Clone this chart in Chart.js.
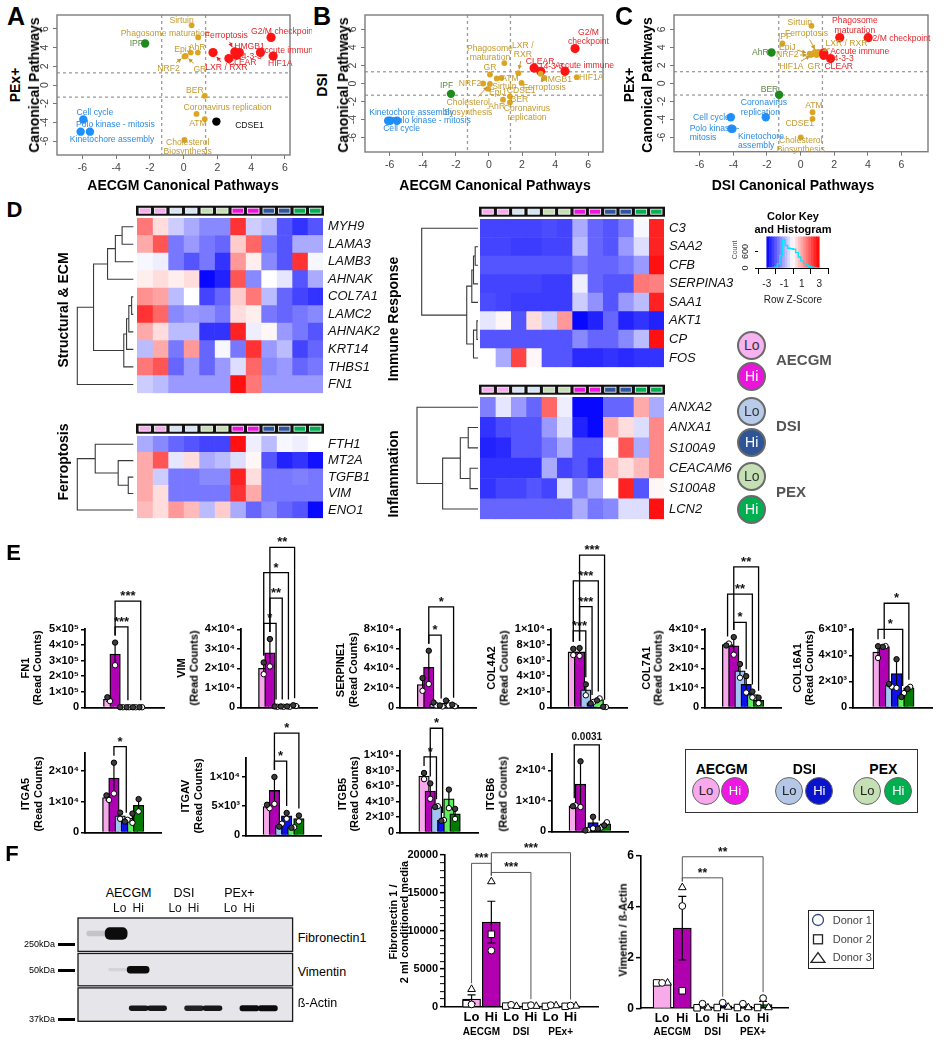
<!DOCTYPE html>
<html><head><meta charset="utf-8"><title>Figure</title>
<script src="https://cdn.jsdelivr.net/npm/chart.js@4.4.1/dist/chart.umd.min.js"></script>
<style>
html,body{margin:0;padding:0;background:#fff;}
#root{position:relative;width:944px;height:1050px;overflow:hidden;font-family:"Liberation Sans",Arial,Helvetica,sans-serif;}
#root canvas{position:absolute;}
.t{position:absolute;white-space:pre;line-height:1.15;text-align:center;}
</style></head><body><div id="root"></div>
<script>
// ================= DATA =================
const THR = 1.3;
// Panel A : PEx+ vs AECGM
const aNames = ['Sirtuin','Phagosome maturation','IPF','EpiJ','AhR','NRF2','GR','LXR / RXR','CLEAR','Ferroptosis','14-3-3','HMGB1','Accute immune','G2/M checkpoint','HIF1A','BER','Coronavirus replication','ATM','CDSE1','Cholesterol\nBiosynthesis','Cell cycle','Polo kinase - mitosis','Kinetochore assembly'];
const aX = [0.47,0.86,-2.28,0.42,0.84,0.05,0.12,1.74,2.68,3.03,3.14,3.3,4.55,5.18,5.3,1.25,0.76,1.25,1.94,0.05,-5.94,-5.55,-6.1];
const aY = [6.39,5.1,4.45,3.47,3.47,3.06,3.12,3.47,2.83,3.54,3.18,3.47,3.47,5.1,3.1,-1.16,-3.1,-3.65,-3.92,-5.89,-3.7,-5.0,-5.0];
const aGrp = ['mid','mid','ipf','mid','mid','mid','mid','up','up','up','up','up','up','up','up','mid','mid','mid','other','mid','down','down','down'];
// Panel B : DSI vs AECGM
const bNames = ['G2/M\ncheckpoint','Phagosome\nmaturation','CLEAR','14-3-3','Accute immune','HIF1A','HMGB1','LXR /\nRXR','Ferroptosis','GR','NRF2','ATM','Sirtuin','EpiJ','CDSE1','AhR','BER','Coronavirus\nreplication','Cholesterol\nBiosynthesis','IPF','Kinetochore assembly','Polo kinase - mitosis','Cell cycle'];
const bX = [5.21,0.93,2.73,3.13,4.6,5.31,3.35,1.78,3.13,0.06,-0.35,0.75,0.47,-0.04,1.97,0.85,1.27,1.27,0.06,-2.3,-6.1,-5.56,-5.97];
const bY = [3.88,2.27,1.71,1.35,1.35,0.7,0.62,1.15,1.08,1.0,0.0,0.62,0.56,-0.59,0.06,-1.8,-2.1,-1.42,-0.05,-1.15,-4.13,-4.13,-4.13];
const bGrp = ['up','mid','up','up','up','mid','mid','mid','mid','mid','mid','mid','mid','mid','mid','mid','mid','mid','mid','ipf','down','down','down'];
// Panel C : PEx+ vs DSI
const cNames = ['Sirtuin','Phagosome\nmaturation','G2/M checkpoint','IPF','AhR','Ferroptosis','EpiJ','NRF2','HIF1A','GR','LXR / RXR','HMGB1','Accute immune','14-3-3','CLEAR','BER','ATM','CDSE1','Cholesterol\nBiosynthesis','Cell cycle','Coronavirus\nreplication','Polo kinase -\nmitosis','Kinetochore\nassembly'];
const cX = [0.65,2.33,4.02,-1.08,-1.73,0.95,0.55,0.6,0.75,0.95,1.08,0.85,1.38,1.38,1.78,-1.28,0.71,0.71,0.01,-4.15,-2.07,-4.05,-4.12];
const cY = [6.4,5.1,5.08,4.43,3.43,3.42,3.3,3.15,3.25,3.15,3.5,3.5,3.38,3.12,2.75,-1.26,-3.2,-3.95,-6.0,-3.77,-3.77,-5.06,-5.04];
const cGrp = ['mid','up','up','mid','ipf','mid','mid','mid','mid','mid','mid','mid','up','up','up','ipf','mid','mid','mid','down','down','down','down'];

// Panel D heatmaps (row z-scores, 12 samples)
const colGroups = ['aLo','aLo','dLo','dLo','pLo','pLo','aHi','aHi','dHi','dHi','pHi','pHi'];
const hm1Genes = ['MYH9','LAMA3','LAMB3','AHNAK','COL7A1','LAMC2','AHNAK2','KRT14','THBS1','FN1'];
const hm1Z = [
 [1.6,0.4,-0.6,-1.0,-1.4,-1.4,2.4,-0.6,-0.8,-2.0,-2.4,-2.0],
 [1.0,2.0,-1.6,-1.2,-1.6,-1.8,0.6,1.8,-1.6,-2.0,-1.0,-1.0],
 [-0.1,-0.2,-1.6,-2.0,-1.6,-2.4,1.2,0.2,-1.4,-2.0,2.4,-0.1],
 [0.2,0.4,0.2,0.4,-2.9,-2.6,2.0,-1.4,0,-0.3,-2.0,-1.0],
 [1.3,1.1,-0.8,0,-2.2,-1.8,0.6,1.6,-0.8,-1.8,-2.2,-2.4],
 [2.4,1.8,-1.4,-1.2,-1.3,-1.6,0.4,0.2,-1.6,-1.8,-1.6,-1.4],
 [1.0,0.4,-0.8,-0.8,-2.4,-2.4,2.6,-0.2,0.1,-1.2,-1.6,-2.0],
 [-0.8,1.0,-1.6,1.2,-1.8,-0.1,-1.6,2.4,-1.2,-0.8,-2.2,-1.8],
 [1.6,2.0,-1.8,-1.2,-1.8,-1.2,-0.4,1.8,-1.4,-1.2,-1.8,-1.6],
 [-0.6,-0.8,-1.2,-1.2,-1.2,-1.2,2.8,1.6,-1.2,-1.2,-1.2,-1.2]];
const hm1Tree = [[-1,-2,0.2],[1,-3,0.32],[2,-4,0.46],[-5,-6,0.03],[4,-7,0.08],[5,-8,0.12],[6,-9,0.17],[3,7,0.71],[8,-10,1.0]];
const hm2Genes = ['FTH1','MT2A','TGFB1','VIM','ENO1'];
const hm2Z = [
 [-1.0,-1.4,-1.8,-2.0,-2.2,-2.2,2.8,-0.2,-0.8,-0.1,-0.2,0],
 [1.0,2.0,-0.3,0.4,-1.0,-0.8,-0.4,0.1,-2.0,-2.6,-2.4,-2.8],
 [1.0,-0.6,-1.6,-1.6,-1.4,-1.4,2.6,0.4,-1.6,-1.6,-1.5,-1.6],
 [1.0,0.4,-1.6,-1.6,-1.6,-1.6,2.4,1.0,-1.6,-1.6,-1.6,-1.6],
 [0.8,0.4,1.2,0.8,-0.8,0.6,-1.0,-1.8,-1.4,-1.8,-2.0,-2.9]];
const hm2Tree = [[-3,-4,0.09],[-2,1,0.27],[-1,2,0.68],[3,-5,1.0]];
const hm3Genes = ['C3','SAA2','CFB','SERPINA3','SAA1','AKT1','CP','FOS'];
const hm3Z = [
 [-2.2,-2.2,-2.2,-2.2,-2.1,-2.2,-1.0,-1.8,-2.0,-1.6,-0.1,2.6],
 [-2.2,-2.2,-2.3,-2.3,-2.2,-2.2,-0.8,-1.8,-2.0,-1.2,-0.4,2.6],
 [-2.0,-2.0,-2.0,-2.0,-2.0,-2.0,-1.6,-1.8,-1.8,-1.6,-1.2,2.8],
 [-2.2,-2.2,-2.2,-2.2,-2.3,-2.3,-0.2,-1.8,-2.0,-2.0,1.6,1.5],
 [-2.1,-2.2,-2.3,-2.3,-2.3,-2.3,-0.6,-1.3,-2.0,-1.2,-0.8,2.6],
 [-0.3,0.1,-2.0,0.4,-0.6,1.2,-2.9,-2.6,-1.8,-2.6,-2.4,-2.6],
 [-2.0,-2.0,-2.0,-2.0,-2.0,-2.0,-1.4,-1.8,-1.8,-1.4,-0.8,2.8],
 [0,-1.0,2.2,0.1,-2.0,-2.0,-2.5,-2.5,-2.4,-2.5,-2.4,-2.4]];
const hm3Tree = [[-2,-3,0.05],[1,-4,0.08],[2,-5,0.11],[-6,-7,0.02],[4,-8,0.08],[3,5,0.2],[-1,6,1.0]];
const hm4Genes = ['ANXA2','ANXA1','S100A9','CEACAM6','S100A8','LCN2'];
const hm4Z = [
 [-1.5,-0.3,-1.2,-1.8,1.8,-0.2,-2.9,-2.9,-1.8,-1.8,1.0,-1.0],
 [-2.4,-2.1,-2.0,-2.0,-1.2,-0.4,-2.6,-2.9,1.0,0.4,-0.4,1.4],
 [-2.6,-2.5,-2.0,-2.0,-1.6,-1.0,-2.0,-2.0,0,2.0,-1.0,1.4],
 [-2.4,-2.4,-2.4,-2.4,-1.0,-2.2,-2.0,-2.4,0.8,0.4,0.8,1.4],
 [-2.4,-2.2,-2.2,-2.0,-2.2,-0.4,-1.5,-1.0,0,2.6,-2.0,0.1],
 [-1.8,-1.8,-1.8,-1.8,-1.8,-1.8,-1.0,-1.6,-1.4,-0.4,-0.4,2.8]];
const hm4Tree = [[-2,-3,0.16],[-4,-5,0.13],[1,2,0.29],[3,-6,0.58],[-1,4,1.0]];
const keyBins = [-2.85,-2.55,-2.25,-1.95,-1.65,-1.35,-1.05,-0.75,-0.45,-0.15,0.15,0.45,0.75,1.05,1.35,1.65,1.95,2.25,2.55,2.85];
const keyCounts = [0,0,0,30,150,450,1020,820,720,700,680,560,400,260,160,100,60,30,15,5];

// Panel E read counts (AECGM Lo, AECGM Hi, DSI Lo, DSI Hi, PEX Lo, PEX Hi)
const eGenes = ['FN1','VIM','SERPINE1','COL4A2','COL7A1','COL16A1','ITGA5','ITGAV','ITGB5','ITGB6'];
const eMean = [
 [52000,342000,1000,1000,1000,1000],
 [20000,28000,400,400,400,900],
 [23500,41000,3500,1500,4500,2000],
 [7100,7100,2250,600,1000,60],
 [32200,31500,18700,11800,6600,3600],
 [4250,4680,1700,2600,950,1500],
 [11300,17600,5400,3800,4600,8800],
 [4950,7700,1750,3350,1350,2900],
 [7300,5350,3350,1550,4350,2400],
 [8400,15500,400,2900,1050,2500]];
const eErr = [
 [13000,73000,0,0,0,0],
 [3000,7000,0,0,0,0],
 [6500,17000,1500,500,2500,800],
 [400,500,700,100,150,30],
 [500,4500,3500,4200,1500,1400],
 [450,30,100,1100,150,80],
 [800,5000,1000,300,1500,2000],
 [300,2300,250,500,50,500],
 [400,1000,50,50,1200,650],
 [150,7500,100,1900,150,500]];
const eRepA = [
 [65000,415000,1000,1000,1000,1000],
 [23000,35000,500,500,500,1100],
 [30000,58000,5000,2000,7000,2800],
 [7500,7600,2950,500,900,80],
 [31700,36000,22200,16000,8100,5000],
 [4700,4650,1800,3700,800,1420],
 [12000,22600,6400,3500,6100,10800],
 [5250,10000,1500,3850,1300,3400],
 [7700,6350,3300,1500,5550,3050],
 [8250,23000,300,4800,900,2000]];
const eRepB = [
 [40000,270000,1000,1000,1000,1000],
 [17000,21000,300,300,300,700],
 [17000,24000,2000,1000,2000,1200],
 [6700,6600,1550,700,1150,40],
 [32700,27000,15200,7600,5100,2200],
 [3800,4710,1600,1500,1100,1580],
 [10500,12600,4400,4100,3100,6800],
 [4650,5400,2000,2850,1400,2400],
 [6900,4350,3400,1600,3150,1750],
 [8550,8000,500,1000,1200,3000]];
const eMax = [500000,40000,80000,10000,40000,6000,25800,13200,10500,25500];
const eStep = [100000,10000,20000,2000,10000,2000,10000,5000,2000,10000];
const eSig = [
 [[1,3,515000,'***'],[1,5,680000,'***']],
 [[0,2,43000,'*'],[1,3,56000,'**'],[0,4,69000,'*'],[1,5,82000,'**']],
 [[1,3,74000,'*'],[1,5,103000,'*']],
 [[0,2,9800,'***'],[1,3,12900,'***'],[0,4,16200,'***'],[1,5,19500,'***']],
 [[1,3,43500,'*'],[0,4,58000,'**'],[1,5,72000,'**']],
 [[0,4,6000,'*'],[1,5,8000,'*']],
 [[1,3,27800,'*']],
 [[1,3,12700,'*'],[1,5,17500,'*']],
 [[0,2,9800,'*'],[1,3,13500,'*']],
 [[0,4,28400,'0.0031']]];

// Panel F
const fCond = ['Lo','Hi','Lo','Hi','Lo','Hi'];
const fnGroups = ['AECGM','DSI','PEx+'];
const vmGroups = ['AECGM','DSI','PEX+'];
const fnMean = [1000,11150,130,110,130,100];
const fnErr = [560,2750,60,50,50,40];
const fnD1 = [300,7400,250,200,200,150];
const fnD2 = [400,9550,80,60,40,50];
const fnD3 = [2300,16500,60,70,150,100];
const fnSig = [[0,1,18900,'***'],[1,3,17700,'***'],[1,5,20300,'***']];
const vmMean = [1.0,3.16,0.07,0.1,0.08,0.15];
const vmErr = [0,1.25,0.05,0.06,0.05,0.12];
const vmD1 = [1.0,4.03,0.18,0.22,0.18,0.4];
const vmD2 = [1.0,0.69,0.02,0.03,0.03,0.03];
const vmD3 = [1.0,4.76,0.02,0.05,0.03,0.03];
const vmSig = [[1,3,5.14,'**'],[1,5,5.97,'**']];
const blotCond = ['Lo','Hi','Lo','Hi','Lo','Hi'];
const blotFN1 = [0.15,1,0,0,0,0];
const blotVIM = [0.08,1,0,0,0,0];
const blotACT = [0.95,0.95,0.9,0.95,1,1];

// ================= STYLE / LAYOUT =================
const FONT = '"Liberation Sans", Arial, Helvetica, sans-serif';
const NARROW = '"Liberation Sans Narrow", "Arial Narrow", "Liberation Sans", Arial, sans-serif';
Chart.defaults.font.family = FONT;
const root = document.getElementById('root');
const GC = {up:'#FF1414', mid:'#DBA423', ipf:'#1E8A1E', down:'#1E8FFF', other:'#000000'};
const GT = {up:'#E3262B', mid:'#C49A2E', ipf:'#5D8743', down:'#2B8AE4', other:'#111111'};
const GR = {up:4.6, mid:2.9, ipf:4.2, down:4.2, other:4.2};
const stripColor = {aLo:'#F8ABEF', aHi:'#EE13DE', dLo:'#D6E4F7', dHi:'#2F55A0', pLo:'#C6DFB2', pHi:'#00B050'};
const eColors = ['#F6A8EA','#B000B4','#9FC5F0','#0F10F0','#5CF05C','#007D00'];

function txt(s, x, y, o = {}) {
  const d = document.createElement('div');
  d.className = 't'; d.textContent = s;
  const st = d.style;
  st.left = x + 'px'; st.top = y + 'px';
  st.fontSize = (o.size || 12) + 'px';
  st.fontWeight = o.bold ? 'bold' : 'normal';
  if (o.italic) st.fontStyle = 'italic';
  st.color = o.color || '#000';
  const ax = o.anchor === 'l' ? '0' : (o.anchor === 'r' ? '-100%' : '-50%');
  st.transform = 'translate(' + ax + ',-50%)' + (o.rot ? ' rotate(-90deg)' : '');
  root.appendChild(d);
  return d;
}
// Canvas whose plot area lands exactly on `box`; axes take the margin on their side.
function mk(box, m, cfg) {
  const bw = box.r - box.l, bh = box.b - box.t;
  const W = Math.ceil(bw + m.l + m.r), H = Math.ceil(bh + m.t + m.b);
  const cv = document.createElement('canvas');
  cv.width = W; cv.height = H;
  cv.style.left = (box.l - m.l) + 'px'; cv.style.top = (box.t - m.t) + 'px';
  cv.style.width = W + 'px'; cv.style.height = H + 'px';
  root.appendChild(cv);
  const o = cfg.options = cfg.options || {};
  o.responsive = false; o.maintainAspectRatio = false; o.animation = false;
  const pad = {left: m.l, top: m.t, right: W - m.l - bw, bottom: H - m.t - bh};
  Object.entries(o.scales || {}).forEach(([k, s]) => {
    s.ticks = Object.assign({autoSkip: false}, s.ticks || {});
    if (s.display === false) return;
    const pos = s.position || (k[0] === 'x' ? 'bottom' : 'left');
    const size = pad[pos]; pad[pos] = 0;
    s.afterFit = sc => { if (sc.isHorizontal()) sc.height = size; else sc.width = size; };
  });
  o.layout = {padding: pad};
  o.plugins = Object.assign({legend: {display: false}, tooltip: {enabled: false}}, o.plugins || {});
  const ch = new Chart(cv, cfg);
  ch.$ox = box.l - m.l; ch.$oy = box.t - m.t;
  return ch;
}
function zColor(z) {
  z = Math.max(-3, Math.min(3, z));
  if (z < 0) { const v = Math.round(255 * (1 + z / 3)); return 'rgb(' + v + ',' + v + ',255)'; }
  const v = Math.round(255 * (1 - z / 3)); return 'rgb(255,' + v + ',' + v + ')';
}
const SUP = {'0':'⁰','1':'¹','2':'²','3':'³','4':'⁴','5':'⁵','6':'⁶','7':'⁷','8':'⁸','9':'⁹'};
function sci(v) {
  if (v === 0) return '0';
  const e = Math.floor(Math.log10(v) + 1e-9);
  const mnt = Math.round(v / Math.pow(10, e));
  return mnt + '×10' + String(e).split('').map(c => SUP[c]).join('');
}

// ---------- scatter panels ----------
function scatterPanel(box, xr, yr, names, xs, ys, grp, lab) {
  const plug = {id: 'scl',
    beforeDatasetsDraw(ch) {
      const {ctx, chartArea: a, scales: {x, y}} = ch;
      ctx.save(); ctx.strokeStyle = '#9c9c9c'; ctx.lineWidth = 1.3; ctx.setLineDash([3, 3]);
      [-THR, THR].forEach(t => {
        const px = x.getPixelForValue(t); ctx.beginPath(); ctx.moveTo(px, a.top); ctx.lineTo(px, a.bottom); ctx.stroke();
        const py = y.getPixelForValue(t); ctx.beginPath(); ctx.moveTo(a.left, py); ctx.lineTo(a.right, py); ctx.stroke();
      });
      ctx.restore();
    },
    afterDraw(ch) {
      const {ctx, chartArea: a, scales: {x, y}} = ch;
      ctx.save(); ctx.strokeStyle = '#7c7c7c'; ctx.lineWidth = 1.4;
      ctx.strokeRect(a.left, a.top, a.right - a.left, a.bottom - a.top);
      ctx.font = '8.6px ' + NARROW; ctx.textBaseline = 'middle';
      names.forEach((n, i) => {
        const L = lab[i]; if (!L) return;
        const col = GT[grp[i]];
        const lx = x.getPixelForValue(L[0]), ly = y.getPixelForValue(L[1]);
        ctx.fillStyle = col; ctx.textAlign = L[3] === 'l' ? 'left' : 'center';
        const lines = n.split('\n');
        lines.forEach((s, j) => ctx.fillText(s, lx, ly + (j - (lines.length - 1) / 2) * 9.6));
        if (L[2]) {
          const px = x.getPixelForValue(xs[i]), py = y.getPixelForValue(ys[i]);
          let dx = px - lx, dy = py - ly; const len = Math.hypot(dx, dy); if (len < 4) return;
          dx /= len; dy /= len;
          const hw = Math.max(...lines.map(s => ctx.measureText(s).width)) / 2, hh = lines.length * 4.8;
          const tt = Math.min(Math.abs(dx) > 1e-6 ? hw / Math.abs(dx) : 1e9, Math.abs(dy) > 1e-6 ? hh / Math.abs(dy) : 1e9) + 1.5;
          const er = GR[grp[i]] + 1;
          if (tt > len - er - 2) return;
          const sx = lx + dx * tt, sy = ly + dy * tt, ex = px - dx * er, ey = py - dy * er;
          ctx.strokeStyle = col; ctx.lineWidth = 1;
          ctx.beginPath(); ctx.moveTo(sx, sy); ctx.lineTo(ex, ey); ctx.stroke();
          ctx.beginPath(); ctx.moveTo(ex, ey);
          ctx.lineTo(ex - dx * 4 - dy * 2.2, ey - dy * 4 + dx * 2.2);
          ctx.lineTo(ex - dx * 4 + dy * 2.2, ey - dy * 4 - dx * 2.2);
          ctx.closePath(); ctx.fill();
        }
      });
      ctx.restore();
    }};
  const tk = [-6, -4, -2, 0, 2, 4, 6];
  return mk(box, {l: 30, r: 22, t: 10, b: 22}, {
    type: 'scatter',
    data: {datasets: [{data: xs.map((v, i) => ({x: v, y: ys[i]})),
      pointBackgroundColor: grp.map(g => GC[g]), pointBorderColor: grp.map(g => GC[g]),
      pointRadius: grp.map(g => GR[g]), pointBorderWidth: 0, clip: false}]},
    options: {scales: {
      x: {type: 'linear', min: xr[0], max: xr[1], afterBuildTicks: s => { s.ticks = tk.map(v => ({value: v})); },
          ticks: {font: {size: 10.5}, color: '#444', padding: 3}, grid: {display: true, drawOnChartArea: false, tickLength: 4, color: '#777'}, border: {display: false}},
      y: {type: 'linear', min: yr[0], max: yr[1], afterBuildTicks: s => { s.ticks = tk.map(v => ({value: v})); },
          ticks: {font: {size: 10.5}, color: '#444', padding: 3, minRotation: 90, maxRotation: 90, crossAlign: 'center'},
          grid: {display: true, drawOnChartArea: false, tickLength: 4, color: '#777'}, border: {display: false}}}},
    plugins: [plug]
  });
}
const aLab = [[-0.12,6.92,0],[-1.1,5.46,0],[-2.8,4.39,0],[-0.06,3.78,0],[0.8,4.0,0],[-0.9,1.8,1],[0.96,1.7,1],[2.53,1.81,1],[3.47,2.41,0],[2.53,5.28,1],[3.9,3.0,0],[3.9,4.13,0],[6.2,3.7,0],[5.9,5.74,0],[5.72,2.34,0],[0.66,-0.63,0],[2.6,-2.42,0],[0.85,-4.17,0],[3.9,-4.38,0],[0.24,-6.66,0],[-5.26,-3.0,0],[-4.04,-4.28,0],[-4.24,-5.89,0]];
const bLab = [[6.02,5.14,0],[0.06,3.37,0],[3.1,2.38,0],[3.76,1.82,0],[5.78,1.93,0],[6.19,0.7,0],[4.1,0.48,0],[2.05,3.72,1],[3.35,-0.42,1],[0.06,1.71,0],[-1.15,-0.05,0],[1.27,0.55,0],[0.93,-0.3,1],[0.51,-1.05,0],[1.95,-0.84,1],[0.47,-2.57,0],[1.84,-1.8,0],[2.3,-3.3,0],[-1.25,-2.65,1],[-2.56,-0.28,0],[-4.69,-3.28,0],[-3.48,-4.13,0],[-5.29,-5.06,0]];
const cLab = [[-0.05,6.8,0],[3.23,6.43,0],[5.8,5.02,0],[-0.95,5.2,0],[-2.39,3.43,0],[0.35,5.55,1],[-0.79,4.0,1],[-0.79,3.15,1],[-0.55,1.85,1],[0.8,1.85,1],[2.73,4.47,1],null,[3.52,3.54,0],[2.42,2.75,0],[2.27,1.9,0],[-1.85,-0.7,0],[0.8,-2.46,0],[-0.05,-4.5,0],[0.01,-6.85,0],[-5.3,-3.77,0],[-3.56,-2.7,0,'l'],[-6.6,-5.53,0,'l'],[-3.72,-6.43,0,'l']];

scatterPanel({l: 57, r: 290, t: 15, b: 155}, [-7.5, 6.3], [-7.5, 7.5], aNames, aX, aY, aGrp, aLab);
scatterPanel({l: 365, r: 603, t: 15, b: 152}, [-7.5, 6.9], [-7.6, 7.6], bNames, bX, bY, bGrp, bLab);
scatterPanel({l: 674.3, r: 928.3, t: 15, b: 151.7}, [-7.53, 7.58], [-7.6, 7.6], cNames, cX, cY, cGrp, cLab);

// ---------- heatmaps ----------
const stripPlugin = {id: 'strip', afterDraw(ch) {
  const {ctx, chartArea: a, scales: {x}} = ch;
  const top = a.top - 12.3, bot = a.top - 2.3;
  ctx.save(); ctx.fillStyle = '#111';
  ctx.fillRect(a.left - 1, top, a.right - a.left + 2, bot - top);
  colGroups.forEach((g, c) => {
    const x1 = x.getPixelForValue(c) + 2, x2 = x.getPixelForValue(c + 1) - 2;
    ctx.fillStyle = stripColor[g]; ctx.fillRect(x1, top + 2.5, x2 - x1, bot - top - 5);
    ctx.strokeStyle = '#fff'; ctx.lineWidth = 0.8; ctx.strokeRect(x1, top + 2.5, x2 - x1, bot - top - 5);
  });
  ctx.restore();
}};
function dendPlugin(tree, gap, width) {
  return {id: 'dend', afterDraw(ch) {
    const {ctx, chartArea: a, scales: {y}} = ch;
    const x0 = a.left - gap, pos = [];
    const get = r => r < 0 ? {x: x0, y: y.getPixelForValue(-r - 1)} : pos[r - 1];
    ctx.save(); ctx.strokeStyle = '#3a3a3a'; ctx.lineWidth = 1.1; ctx.beginPath();
    tree.forEach(([p, q, h]) => {
      const A = get(p), B = get(q), nx = x0 - h * width;
      ctx.moveTo(A.x, A.y); ctx.lineTo(nx, A.y); ctx.lineTo(nx, B.y); ctx.lineTo(B.x, B.y);
      pos.push({x: nx, y: (A.y + B.y) / 2});
    });
    ctx.stroke(); ctx.restore();
  }};
}
function heatmap(box, genes, Z, tree, gap, width) {
  const datasets = colGroups.map((g, c) => ({
    data: genes.map(() => 1), backgroundColor: Z.map(row => zColor(row[c])),
    borderWidth: 0, barPercentage: 1, categoryPercentage: 1}));
  return mk(box, {l: 68, r: 88, t: 16, b: 2}, {
    type: 'bar', data: {labels: genes, datasets},
    options: {indexAxis: 'y', scales: {
      x: {display: false, stacked: true, min: 0, max: 12},
      y: {type: 'category', stacked: true, position: 'right', grid: {display: false, drawTicks: false}, border: {display: false},
          ticks: {font: {size: 13, style: 'italic'}, color: '#111', padding: 5}}}},
    plugins: [stripPlugin, dendPlugin(tree, gap, width)]
  });
}
heatmap({l: 136.7, r: 322.7, t: 218.3, b: 404.3}, hm1Genes, hm1Z, hm1Tree, 3.7, 56);
heatmap({l: 136.7, r: 322.7, t: 435.7, b: 527.7}, hm2Genes, hm2Z, hm2Tree, 3.7, 56);
heatmap({l: 480, r: 664, t: 219, b: 377.7}, hm3Genes, hm3Z, hm3Tree, 2, 56.3);
heatmap({l: 480, r: 664, t: 396.7, b: 529}, hm4Genes, hm4Z, hm4Tree, 2, 61);

// color key
mk({l: 758, r: 828, t: 233, b: 268}, {l: 25, r: 6, t: 4, b: 22}, {
  type: 'bar',
  data: {datasets: [
    {type: 'line', order: 0, data: keyBins.map((b, i) => ({x: b, y: keyCounts[i]})), borderColor: '#00E8FF', borderWidth: 1.4, pointRadius: 0, stepped: 'middle'},
    {type: 'bar', order: 1, data: keyBins.map(b => ({x: b, y: 1150})), backgroundColor: keyBins.map(zColor), barPercentage: 1, categoryPercentage: 1, borderWidth: 0}]},
  options: {scales: {
    x: {type: 'linear', min: -3, max: 3, afterBuildTicks: s => { s.ticks = [-3, -1, 1, 3].map(v => ({value: v})); },
        ticks: {font: {size: 10}, color: '#222', padding: 4}, grid: {display: true, drawOnChartArea: false, tickLength: 6, color: '#000'}, border: {display: true, color: '#000'}},
    y: {type: 'linear', min: 0, max: 1150, afterBuildTicks: s => { s.ticks = [0, 600].map(v => ({value: v})); },
        ticks: {font: {size: 9}, color: '#222', padding: 2, minRotation: 90, maxRotation: 90, crossAlign: 'center'},
        grid: {display: true, drawOnChartArea: false, tickLength: 3, color: '#000'}, border: {display: false}}}}
});

// ---------- panel E ----------
function errPlugin(means, errs, color, lw, cap) {
  return {id: 'err', afterDatasetDraw(ch, args) {
    if (args.meta.type !== 'bar') return;
    const {ctx, scales: {x, y}} = ch;
    ctx.save(); ctx.strokeStyle = color; ctx.lineWidth = lw; ctx.beginPath();
    means.forEach((m, k) => {
      const e = errs[k]; if (!e) return;
      const px = x.getPixelForValue(k), y1 = y.getPixelForValue(m + e), y0 = y.getPixelForValue(Math.max(0, m - e));
      ctx.moveTo(px, y0); ctx.lineTo(px, y1);
      ctx.moveTo(px - cap, y1); ctx.lineTo(px + cap, y1);
      ctx.moveTo(px - cap, y0); ctx.lineTo(px + cap, y0);
    });
    ctx.stroke(); ctx.restore();
  }};
}
function sigPlugin(sig, tops, color, lw, starFont, gap) {
  return {id: 'sig', afterDraw(ch) {
    const {ctx, scales: {x, y}} = ch;
    ctx.save(); ctx.strokeStyle = color; ctx.fillStyle = '#111'; ctx.lineWidth = lw; ctx.textAlign = 'center'; ctx.textBaseline = 'alphabetic';
    sig.forEach(([a, b, v, lab]) => {
      const xa = x.getPixelForValue(a), xb = x.getPixelForValue(b), yv = y.getPixelForValue(v);
      const ya = y.getPixelForValue(tops[a]) - gap, yb = y.getPixelForValue(tops[b]) - gap;
      ctx.beginPath(); ctx.moveTo(xa, ya); ctx.lineTo(xa, yv); ctx.lineTo(xb, yv); ctx.lineTo(xb, yb); ctx.stroke();
      const num = /[0-9]/.test(lab);
      ctx.font = num ? 'bold 10px ' + FONT : starFont;
      ctx.fillText(lab, (xa + xb) / 2, yv - (num ? 5 : 1));
    });
    ctx.restore();
  }};
}
const eLay = [
 [85, 708.3, 629.3, 93, 13],
 [240.7, 708.3, 629.3, 248.3, 12.6],
 [400, 708.3, 629.3, 407.3, 12.7],
 [551, 708.3, 629.3, 557.7, 12.7],
 [705, 708.3, 629.3, 712.3, 12.7],
 [853.3, 708.3, 629.3, 864, 12.5],
 [85, 833.3, 752.8, 92.7, 12.6],
 [246, 836.7, 758.3, 253.3, 12.5],
 [400, 833.3, 751.4, 409.3, 12.7],
 [551.7, 832.7, 753.7, 558.3, 12.7]];
const eTitlePos = [[25,37.3,668],[181,194.3,668],[340,353.3,670],[490.7,504.3,668],[646,658.3,668],[796.7,809,668],
                   [25,37.7,794],[185,198.3,796],[341.7,354.3,794],[490,503.3,794]];
function eChart(i) {
  const [L, B, T, c0, s] = eLay[i];
  const xmin = (L - c0) / s, xmax = 5.55;
  const box = {l: L, r: c0 + xmax * s, t: T, b: B};
  const ppv = (B - T) / eMax[i];
  const mean = eMean[i], err = eErr[i], ra = eRepA[i], rb = eRepB[i];
  const ptsA = [], ptsB = [];
  mean.forEach((m, k) => {
    const close = Math.abs(ra[k] - rb[k]) * ppv < 5; const dx = close ? 2.7 / s : 0;
    ptsA.push({x: k - dx, y: ra[k]}); ptsB.push({x: k + dx, y: rb[k]});
  });
  const tops = mean.map((m, k) => Math.max(m + err[k], ra[k], rb[k]));
  const tks = []; for (let v = 0; v <= eMax[i] + 1e-6; v += eStep[i]) tks.push(v);
  mk(box, {l: 50, r: 3, t: T - (i < 6 ? 530 : 712), b: 7}, {
    type: 'bar',
    data: {datasets: [
      {type: 'bar', order: 3, data: mean.map((m, k) => ({x: k, y: m})), backgroundColor: eColors, borderColor: '#000', borderWidth: 1.3, barThickness: 10.5},
      {type: 'scatter', order: 1, data: ptsA, pointRadius: 2.7, pointBackgroundColor: '#3c3c3c', pointBorderColor: '#000', pointBorderWidth: 1, clip: false},
      {type: 'scatter', order: 2, data: ptsB, pointRadius: 2.7, pointBackgroundColor: '#ffffff', pointBorderColor: '#000', pointBorderWidth: 1, clip: false}]},
    options: {scales: {
      x: {type: 'linear', min: xmin, max: xmax, ticks: {display: false}, grid: {display: false}, border: {display: true, color: '#000', width: 1.8}},
      y: {type: 'linear', min: 0, max: eMax[i], afterBuildTicks: sc => { sc.ticks = tks.map(v => ({value: v})); },
          ticks: {callback: v => sci(v), font: {size: 11, weight: 'bold'}, color: '#000', padding: 2},
          grid: {display: true, drawOnChartArea: false, tickLength: 4, color: '#000', lineWidth: 1.5},
          border: {display: true, color: '#000', width: 1.8}}}},
    plugins: [errPlugin(mean, err, '#000', 1.2, 2.5), sigPlugin(eSig[i], tops, '#000', 1.3, 'bold 13px ' + FONT, 7)]
  });
  const tp = eTitlePos[i];
  txt(eGenes[i], tp[0], tp[2], {size: 11, bold: true, rot: true});
  txt('(Read Counts)', tp[1], tp[2], {size: 11, bold: true, rot: true});
}
for (let i = 0; i < eGenes.length; i++) eChart(i);

// ---------- panel F bar charts ----------
function fChart(box, c0, s, ymax, tickVals, labelEvery, mean, err, d1, d2, d3, sig, groups, tickFont, condFont) {
  const xmin = (box.l - c0) / s, xmax = (box.r - c0) / s;
  const ppv = (box.b - box.t) / ymax;
  const D = [d1, d2, d3], off = [0, -0.27, 0.27];
  const P = D.map((arr, j) => arr.map((v, k) => {
    const close = D.some((o, jj) => jj !== j && Math.abs(o[k] - v) * ppv < 8);
    return {x: k + (close ? off[j] : 0), y: v};
  }));
  const tops = mean.map((m, k) => Math.max(m + err[k], d1[k], d2[k], d3[k]));
  const styles = ['circle', 'rect', 'triangle'], radii = [3.4, 4.6, 4.4];
  const ch = mk(box, {l: 50, r: 4, t: 24, b: 22}, {
    type: 'bar',
    data: {datasets: [
      {type: 'bar', order: 5, data: mean.map((m, k) => ({x: k, y: m})), backgroundColor: ['#F7ABEA','#B000B0','#9DC3E6','#0000FF','#66FF66','#008000'], borderColor: '#000', borderWidth: 1.2, barThickness: 18}
    ].concat(P.map((pts, j) => ({type: 'scatter', order: j + 1, data: pts, pointStyle: styles[j], pointRadius: radii[j], pointBackgroundColor: '#fff', pointBorderColor: '#000', pointBorderWidth: 1, clip: false})))},
    options: {scales: {
      x: {type: 'linear', min: xmin, max: xmax, afterBuildTicks: sc => { sc.ticks = fCond.map((c, k) => ({value: k})); },
          ticks: {callback: (v, i) => fCond[i], font: {size: condFont, weight: 'bold'}, color: '#000', padding: 3},
          grid: {display: false, drawTicks: false}, border: {display: true, color: '#000', width: 1.6}},
      y: {type: 'linear', min: 0, max: ymax, afterBuildTicks: sc => { sc.ticks = tickVals.map(v => ({value: v})); },
          ticks: {callback: v => (v % labelEvery === 0 ? String(v) : ''), font: {size: tickFont, weight: 'bold'}, color: '#000', padding: 2},
          grid: {display: true, drawOnChartArea: false, tickLength: 5, color: '#000', lineWidth: 1.3,
                 tickWidth: c => (c.tick && c.tick.value % labelEvery === 0 ? 1.5 : 1)},
          border: {display: true, color: '#000', width: 1.6}}}},
    plugins: [errPlugin(mean, err, '#000', 1.2, 4), sigPlugin(sig, tops, '#555', 1, 'bold 12px ' + FONT, 6)]
  });
  groups.forEach((g, k) => txt(g, ch.$ox + ch.scales.x.getPixelForValue(2 * k + 0.5), 1031.7, {size: 10, bold: true}));
  return ch;
}
const fnTicks = []; for (let v = 0; v <= 20000; v += 1000) fnTicks.push(v);
fChart({l: 445, r: 600, t: 855, b: 1006.7}, 461.7, 24, 20000, fnTicks, 5000, fnMean, fnErr, fnD1, fnD2, fnD3, fnSig, fnGroups, 11, 13);
fChart({l: 641, r: 790, t: 856, b: 1008.3}, 651.7, 24.5, 6, [0, 2, 4, 6], 2, vmMean, vmErr, vmD1, vmD2, vmD3, vmSig, vmGroups, 12, 12);

// ---------- western blot ----------
const blotSlots = [1, 2, 4, 5, 7, 8];
const bandC = [2.55, 1.5, 0.38], bandH = [0.17, 0.1, 0.075], bandW = [22, 22, 19];
const blot = mk({l: 77.7, r: 292.3, t: 917.7, b: 1021}, {l: 4, r: 4, t: 16, b: 3}, {
  type: 'bar',
  data: {datasets: [blotFN1, blotVIM, blotACT].map((I, p) => ({
    data: blotSlots.map((sl, k) => I[k] > 0 ? {x: sl, y: [bandC[p] - bandH[p] * (0.3 + 0.7 * I[k]), bandC[p] + bandH[p] * (0.3 + 0.7 * I[k])]} : {x: sl, y: null}),
    backgroundColor: I.map(v => 'rgba(12,12,12,' + Math.min(1, v) + ')'),
    barThickness: bandW[p], borderRadius: 5, borderSkipped: false, borderWidth: 0}))},
  options: {scales: {
    x: {type: 'linear', min: -0.29, max: 9.4, position: 'top', afterBuildTicks: sc => { sc.ticks = blotSlots.map(v => ({value: v})); },
        ticks: {callback: (v, i) => blotCond[i], font: {size: 12}, color: '#111', padding: 2}, grid: {display: false, drawTicks: false}, border: {display: false}},
    y: {type: 'linear', min: 0, max: 3, display: false}}},
  plugins: [{id: 'strips', beforeDatasetsDraw(ch) {
    const {ctx, chartArea: a, scales: {y}} = ch;
    ctx.save(); ctx.fillStyle = '#E5E5EA'; ctx.strokeStyle = '#1a1a1a'; ctx.lineWidth = 1.3;
    for (let k = 0; k < 3; k++) {
      const t = y.getPixelForValue(k + (k === 2 ? 1 : 0.97)), b = y.getPixelForValue(k + (k === 0 ? 0 : 0.03));
      ctx.fillRect(a.left, t, a.right - a.left, b - t); ctx.strokeRect(a.left, t, a.right - a.left, b - t);
    }
    ctx.restore();
  }}]
});
['AECGM', 'DSI', 'PEx+'].forEach((g, k) => txt(g, blot.$ox + blot.scales.x.getPixelForValue(blotSlots[2 * k] + 0.5), 893.3, {size: 12.5}));
txt('Fibronectin1', 297.7, 937.7, {size: 12.5, anchor: 'l'});
txt('Vimentin', 297.7, 971.7, {size: 12.5, anchor: 'l'});
txt('ß-Actin', 297.7, 1003.3, {size: 12.5, anchor: 'l'});
[['250kDa', 944], ['50kDa', 970], ['37kDa', 1019.3]].forEach(([s, y]) => {
  txt(s, 55, y, {size: 9, anchor: 'r'});
  const d = document.createElement('div');
  Object.assign(d.style, {position: 'absolute', left: '58px', top: (y - 1.5) + 'px', width: '17px', height: '3px', background: '#000'});
  root.appendChild(d);
});

// ================= TEXT / LEGENDS =================
txt('A', 16, 16, {size: 25, bold: true});
txt('B', 322, 16, {size: 25, bold: true});
txt('C', 624, 16, {size: 25, bold: true});
txt('D', 14.5, 210, {size: 22, bold: true});
txt('E', 13.5, 553, {size: 22, bold: true});
txt('F', 12, 854, {size: 22, bold: true});

txt('PEx+', 15, 85, {size: 14, bold: true, rot: true});
txt('Canonical Pathways', 34, 85, {size: 14, bold: true, rot: true});
txt('AECGM Canonical Pathways', 183, 185, {size: 14, bold: true});
txt('DSI', 322, 85, {size: 14, bold: true, rot: true});
txt('Canonical Pathways', 343, 85, {size: 14, bold: true, rot: true});
txt('AECGM Canonical Pathways', 495, 185, {size: 14, bold: true});
txt('PEx+', 629, 85, {size: 14, bold: true, rot: true});
txt('Canonical Pathways', 647, 85, {size: 14, bold: true, rot: true});
txt('DSI Canonical Pathways', 793, 185, {size: 14, bold: true});

txt('Structural & ECM', 63, 310, {size: 14, bold: true, rot: true});
txt('Ferroptosis', 63, 462, {size: 14, bold: true, rot: true});
txt('Immune Response', 393, 319, {size: 14, bold: true, rot: true});
txt('Inflammation', 393, 474, {size: 14, bold: true, rot: true});

txt('Color Key', 793, 216, {size: 11, bold: true});
txt('and Histogram', 793, 229, {size: 11, bold: true});
txt('Row Z-Score', 793, 300, {size: 10, color: '#222'});
txt('Count', 735, 250, {size: 7, rot: true, color: '#555'});

function circ(cx, cy, d, fill, border, bw, label, tcol, fs) {
  const e = document.createElement('div'); e.className = 't';
  Object.assign(e.style, {left: (cx - d / 2) + 'px', top: (cy - d / 2) + 'px', width: d + 'px', height: d + 'px',
    borderRadius: '50%', background: fill, border: bw + 'px solid ' + border, boxSizing: 'border-box',
    lineHeight: (d - 2 * bw) + 'px', fontSize: fs + 'px', color: tcol});
  e.textContent = label; root.appendChild(e);
}
const dLegend = [['#F9B2F0','Lo','#333'],['#EA14DC','Hi','#fff'],['#B8CBEA','Lo','#333'],['#2F5597','Hi','#fff'],['#C5E0B4','Lo','#333'],['#00B050','Hi','#fff']];
[345.7, 376.7, 411, 442.3, 476.7, 509.3].forEach((cy, k) => circ(751.7, cy, 29, dLegend[k][0], '#6a6a6a', 2, dLegend[k][1], dLegend[k][2], 14));
txt('AECGM', 776, 360, {size: 15, bold: true, anchor: 'l', color: '#555'});
txt('DSI', 776, 426, {size: 15, bold: true, anchor: 'l', color: '#555'});
txt('PEX', 776, 492, {size: 15, bold: true, anchor: 'l', color: '#555'});

// E legend
(function () {
  const b = document.createElement('div');
  Object.assign(b.style, {position: 'absolute', left: '685px', top: '749.3px', width: '233.3px', height: '63.4px', border: '1.5px solid #333', boxSizing: 'border-box'});
  root.appendChild(b);
  txt('AECGM', 721.7, 769, {size: 14, bold: true});
  txt('DSI', 804.3, 769, {size: 14, bold: true});
  txt('PEX', 883.3, 769, {size: 14, bold: true});
  const cl = [['#F7A9EC','Lo','#222'],['#EE18E5','Hi','#fff'],['#B4C7E7','Lo','#222'],['#0A14CC','Hi','#fff'],['#C5E0B4','Lo','#222'],['#00B050','Hi','#fff']];
  [706, 735, 789.3, 819.3, 867.3, 898.3].forEach((cx, k) => circ(cx, 790.7, 28, cl[k][0], '#666', 1.5, cl[k][1], cl[k][2], 13));
})();

// F titles and donor legend
txt('Fibronectin 1 /', 392.7, 922, {size: 11, bold: true, rot: true});
txt('2 ml conditioned media', 404.3, 922, {size: 11, bold: true, rot: true});
txt('Vimentin / ß-Actin', 623, 930, {size: 11, bold: true, rot: true});
(function () {
  const b = document.createElement('div');
  Object.assign(b.style, {position: 'absolute', left: '808.3px', top: '910px', width: '66px', height: '59.3px', border: '1.5px solid #222', boxSizing: 'border-box'});
  root.appendChild(b);
  const ns = 'http://www.w3.org/2000/svg';
  const sv = document.createElementNS(ns, 'svg');
  sv.setAttribute('width', '22'); sv.setAttribute('height', '60');
  Object.assign(sv.style, {position: 'absolute', left: '808.3px', top: '910px'});
  sv.innerHTML = '<circle cx="10" cy="10" r="5.5" fill="none" stroke="#34497a" stroke-width="1.3"/>' +
    '<rect x="5.5" y="24.8" width="9" height="9" fill="none" stroke="#222" stroke-width="1.3"/>' +
    '<polygon points="3,52.3 17,52.3 10,42.5" fill="none" stroke="#222" stroke-width="1.3"/>';
  root.appendChild(sv);
  txt('Donor 1', 832.7, 920, {size: 11, anchor: 'l', color: '#444'});
  txt('Donor 2', 832.7, 939.3, {size: 11, anchor: 'l', color: '#444'});
  txt('Donor 3', 832.7, 957.3, {size: 11, anchor: 'l', color: '#444'});
})();
</script></body></html>
